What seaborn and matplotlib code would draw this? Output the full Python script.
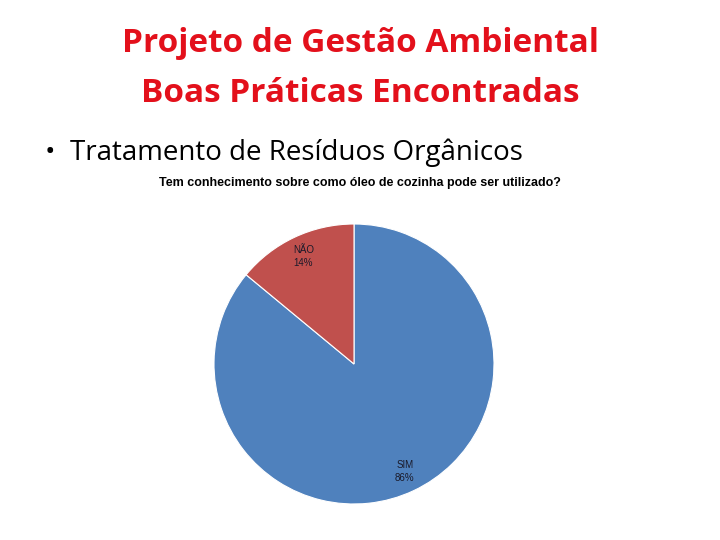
import matplotlib
matplotlib.use("Agg")
import matplotlib.pyplot as plt
import seaborn as sns

# DADOS DO GRAFICO
categorias = ["SIM", "NÃO"]
percentuais = [86, 14]
cores = ["#4F81BD", "#C0504D"]

titulo_1 = "Projeto de Gestão Ambiental"
titulo_2 = "Boas Práticas Encontradas"
topico = "Tratamento de Resíduos Orgânicos"
pergunta = "Tem conhecimento sobre como óleo de cozinha pode ser utilizado?"

sns.set_theme(style="white")
plt.rcParams["font.family"] = ["Open Sans", "DejaVu Sans"]

fig = plt.figure(figsize=(7.2, 5.4), dpi=100)
fig.patch.set_facecolor("white")

# TITULOS DO SLIDE
fig.text(0.5, 1 - 44 / 540, titulo_1, ha="center", va="center",
         color="#E3101B", fontsize=24, fontweight="bold")
fig.text(0.5, 1 - 93 / 540, titulo_2, ha="center", va="center",
         color="#E3101B", fontsize=24, fontweight="bold")
fig.text(70 / 720, 1 - 153 / 540, topico, ha="left", va="center",
         color="black", fontsize=20)
fig.text(45 / 720, 1 - 153 / 540, "•", ha="left", va="center",
         color="black", fontsize=20)
fig.text(360 / 720, 1 - 183 / 540, pergunta, ha="center", va="center",
         color="black", fontsize=9, fontweight="bold",
         family=["Liberation Sans", "DejaVu Sans"])

# GRAFICO DE PIZZA
ax = fig.add_axes([214 / 720, 36 / 540, 280 / 720, 280 / 540])
rotulos = [f"{c}\n{p}%" for c, p in zip(categorias, percentuais)]
fatias, textos = ax.pie(
    percentuais,
    labels=rotulos,
    colors=cores,
    startangle=90,
    counterclock=False,
    labeldistance=0.85,
    wedgeprops={"edgecolor": "white", "linewidth": 0.8},
    textprops={"fontsize": 7, "ha": "center", "va": "center",
               "color": "#1a1a2a", "family": ["Liberation Sans", "DejaVu Sans"],
               "linespacing": 1.4},
)
ax.set_xlim(-1, 1)
ax.set_ylim(-1, 1)
ax.set_aspect("equal")

fig.savefig("out.png", dpi=100, facecolor="white")
